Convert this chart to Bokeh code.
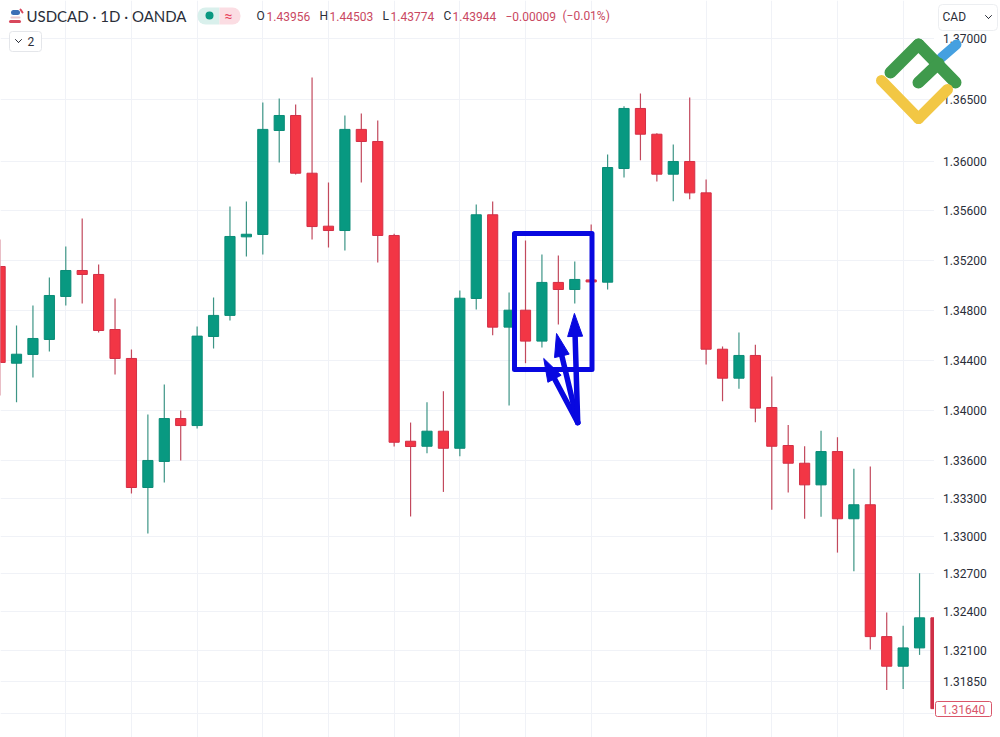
import math
from bokeh.plotting import figure
from bokeh.models import (ColumnDataSource, FixedTicker, NumeralTickFormatter, Range1d, Arrow,
                          BoxAnnotation, Label)
from bokeh.embed import file_html
from bokeh.resources import INLINE

opens = [1.35152,1.34376,1.34446,1.34566,1.34911,1.35120,1.35088,1.34646,1.34414,1.33385,
         1.33592,1.33934,1.33878,1.34590,1.34759,1.35391,1.35410,1.36251,1.36373,1.35905,
         1.35477,1.35442,1.36260,1.36162,1.35402,1.33753,1.33713,1.33833,1.33697,1.34895,
         1.35569,1.34665,1.34801,1.34553,1.35024,1.34967,1.35044,1.35026,1.35943,1.36430,
         1.36221,1.35897,1.36000,1.35746,1.34488,1.34256,1.34438,1.34022,1.33719,1.33578,
         1.33406,1.33671,1.33137,1.33248,1.32206,1.31973,1.32117,1.32354]
closes = [1.34382,1.34448,1.34574,1.34919,1.35120,1.35088,1.34638,1.34414,1.33385,1.33600,
          1.33934,1.33878,1.34593,1.34759,1.35394,1.35412,1.36260,1.36373,1.35905,1.35474,
          1.35442,1.36260,1.36162,1.35402,1.33745,1.33711,1.33833,1.33697,1.34897,1.35569,
          1.34665,1.34801,1.34553,1.35024,1.34967,1.35048,1.35028,1.35951,1.36430,1.36221,
          1.35897,1.36000,1.35746,1.34488,1.34256,1.34438,1.34017,1.33713,1.33578,1.33406,
          1.33671,1.33137,1.33248,1.32206,1.31973,1.32117,1.32354,1.31640]
highs = [1.35370,1.34679,1.34839,1.35064,1.35313,1.35539,1.35168,1.34895,1.34486,1.33966,
         1.34206,1.33998,1.34670,1.34903,1.35636,1.35676,1.36479,1.36511,1.36463,1.36682,
         1.35830,1.36373,1.36389,1.36333,1.35416,1.33902,1.34064,1.34152,1.34959,1.35652,
         1.35676,1.34943,1.35362,1.35249,1.35241,1.35193,1.35491,1.36057,1.36449,1.36552,
         1.36229,1.36138,1.36519,1.35854,1.34510,1.34621,1.34524,1.34270,1.33883,1.33713,
         1.33836,1.33785,1.33534,1.33552,1.32395,1.32291,1.32706,1.32354]
lows = [1.34118,1.34064,1.34262,1.34470,1.34839,1.34855,1.34622,1.34286,1.33338,1.33020,
        1.33425,1.33600,1.33854,1.34494,1.34719,1.35233,1.35249,1.35992,1.35895,1.35370,
        1.35305,1.35281,1.35830,1.35185,1.33711,1.33155,1.33658,1.33350,1.33634,1.34807,
        1.34599,1.34038,1.34376,1.34502,1.34686,1.34855,1.34959,1.34967,1.35870,1.36010,
        1.35838,1.35678,1.35694,1.34366,1.34072,1.34172,1.33905,1.33208,1.33345,1.33137,
        1.33153,1.32869,1.32721,1.32104,1.31787,1.31795,1.32062,1.31633]
price_ticks = [1.37,1.365,1.36,1.356,1.352,1.348,1.344,1.34,1.336,1.333,1.33,1.327,1.324,1.321,1.3185,1.316]
time_grid = [4,8,12,16,20,24,28,32,36,43,47,51,55]
last_price = "1.31640"
box_left, box_right, box_top, box_bottom = 31.33, 36.05, 1.35418, 1.34326
arrow_tail = (35.18, 1.33902)
arrow_tips = [(33.11, 1.34414), (33.89, 1.34614), (34.98, 1.34775)]

GREEN, RED = "#089981", "#f23645"
H = 737
X0, X1, Y0, Y1 = 0.024, 60.93, 1.31414, 1.37310
PANE_END = 56.88   # where the price pane stops and the price scale begins
idx = list(range(len(opens)))
body_col = [GREEN if c >= o else RED for o, c in zip(opens, closes)]
line_col = ["#0b8c77" if c >= o else "#d32f46" for o, c in zip(opens, closes)]
wick_col = ["#3d9586" if c >= o else "#c2495d" for o, c in zip(opens, closes)]
body_col[-1] = line_col[-1] = "#cf2f47"
src = ColumnDataSource(dict(x=idx, o=opens, c=closes, h=highs, l=lows, bc=body_col, lc=line_col, wc=wick_col))

p = figure(width=1000, height=H, output_backend="svg", toolbar_location=None, y_axis_type="log",
           y_axis_location="right", x_range=Range1d(X0, X1), y_range=Range1d(Y0, Y1),
           min_border_left=0, min_border_right=0, min_border_top=0, min_border_bottom=0,
           background_fill_color="white", border_fill_color="white", outline_line_color=None)
p.xaxis.visible = False
p.xgrid.ticker = FixedTicker(ticks=time_grid)
p.ygrid.ticker = FixedTicker(ticks=price_ticks)
p.xgrid.grid_line_color = p.ygrid.grid_line_color = "#f0f2f7"
ax = p.yaxis[0]
ax.fixed_location = PANE_END
ax.ticker = FixedTicker(ticks=price_ticks)
ax.formatter = NumeralTickFormatter(format="0.00000")
ax.major_label_overrides = {1.316: ""}
ax.axis_line_color = None
ax.major_tick_line_color = None
ax.minor_tick_line_color = None
ax.major_tick_in = 0
ax.major_tick_out = 0
ax.major_label_standoff = 9
ax.major_label_text_font = "Roboto"
ax.major_label_text_font_size = "12px"
ax.major_label_text_color = "#2a2e39"

p.segment("x", "h", "x", "l", source=src, line_color="wc", line_width=1.2)
p.vbar(x="x", top="o", bottom="c", width=0.62, source=src, fill_color="bc", line_color="lc", line_width=1)
# price-scale strip hides whatever runs past the pane
p.quad(left=[PANE_END], right=[X1], top=[Y1], bottom=[Y0], fill_color="white", line_color=None)

BLUE = "#0808e0"
p.quad(left=[box_left], right=[box_right], top=[box_top], bottom=[box_bottom], fill_color=None,
       line_color=BLUE, line_width=5, line_join="round")

PX = (1000) / (X1 - X0)
LOGK = H / math.log(Y1 / Y0)
def to_px(x, y):
    return (x - X0) * PX, math.log(Y1 / y) * LOGK
def from_px(sx, sy):
    return sx / PX + X0, Y1 * math.exp(-sy / LOGK)

def stroke(x0, y0, x1, y1, color, w):
    p.add_layout(Arrow(x_start=x0, y_start=H - y0, x_end=x1, y_end=H - y1, start_units="screen", end_units="screen",
                       end=None, line_color=color, line_width=w, line_cap="round", level="overlay"))

def box(l, r, t, b, fill, line=None, radius=0):
    p.add_layout(BoxAnnotation(left=l, right=r, top=H - t, bottom=H - b, left_units="screen", right_units="screen",
                               top_units="screen", bottom_units="screen", fill_color=fill, fill_alpha=1,
                               line_color=line, line_alpha=1 if line else 0, border_radius=radius, level="overlay"))

def text(x, y, s, color="#131722", size="12px", font="Roboto", align="left"):
    p.add_layout(Label(x=x, y=H - y, text=s, x_units="screen", y_units="screen", text_color=color,
                       text_font=font, text_font_size=size, text_baseline="middle", text_align=align, level="overlay"))

# arrows: shaft plus a long narrow head
tail_px = to_px(*arrow_tail)
for tip in arrow_tips:
    tx, ty = to_px(*tip)
    d = math.hypot(tx - tail_px[0], ty - tail_px[1])
    ux, uy = (tx - tail_px[0]) / d, (ty - tail_px[1]) / d
    bx, by = tx - 23 * ux, ty - 23 * uy
    p.line(*zip(*[from_px(*tail_px), from_px(bx, by)]), line_color=BLUE, line_width=5.5, line_cap="round")
    head = [from_px(tx, ty), from_px(bx - 7.5 * uy, by + 7.5 * ux), from_px(bx + 7.5 * uy, by - 7.5 * ux)]
    p.patch(*zip(*head), fill_color=BLUE, line_color=BLUE, line_width=1)

# logo
stroke(941, 57, 956, 44, "#45a0e0", 10)
stroke(890, 72, 918, 44, "#3f9a4c", 12)
stroke(918, 44, 955, 82, "#3f9a4c", 12)
stroke(918, 82, 938, 63, "#3f9a4c", 12)
stroke(881, 80, 918, 118, "#f2c744", 11)
stroke(918, 118, 947, 89, "#f2c744", 11)

# header
stroke(13, 12, 17, 12, "#3c6fb5", 5)
stroke(11, 17, 19, 17, "#e8c9cf", 2)
stroke(10, 21, 19, 21, "#d8485c", 3)
stroke(20, 9, 22, 12, "#d8485c", 2)
text(26, 15, "USDCAD · 1D · OANDA", color="#2a2e39", size="15px", font="Lato")
box(197, 219, 7, 24, "#d9f0ec", radius=(8, 0, 0, 8))
box(219, 240, 7, 24, "#fbdde3", radius=(0, 8, 8, 0))
box(205, 213, 11, 19, "#089981", radius=4)
text(228, 15, "≈", color="#e8475e", size="14px", align="center")
RV = "#c9485f"
for x, s, c in [(256, "O", "#2a2e39"), (266, "1.43956", RV), (319, "H", "#2a2e39"), (329, "1.44503", RV),
                (382, "L", "#2a2e39"), (390, "1.43774", RV), (443, "C", "#2a2e39"), (452, "1.43944", RV),
                (505, "−0.00009", RV), (562, "(−0.01%)", RV)]:
    text(x, 15.5, s, color=c)
box(9, 41, 31, 51, "white", "#e4e6ea", 3)
stroke(15, 39, 18, 42, "#2a2e39", 1)
stroke(18, 42, 21, 39, "#2a2e39", 1)
text(27, 41, "2", color="#2a2e39", size="12px")
box(938, 997, 4, 30, "white", "#eceef1", 4)
text(942, 16, "CAD", color="#2a2e39", size="12px")
stroke(985, 15, 988, 18, "#2a2e39", 1)
stroke(988, 18, 991, 15, "#2a2e39", 1)
box(935, 991, 701, 716, "white", "#d9566a", 2)
text(941, 708.5, last_price, color="#d9566a", size="12px")

open("out.html", "w").write(file_html(p, INLINE))
